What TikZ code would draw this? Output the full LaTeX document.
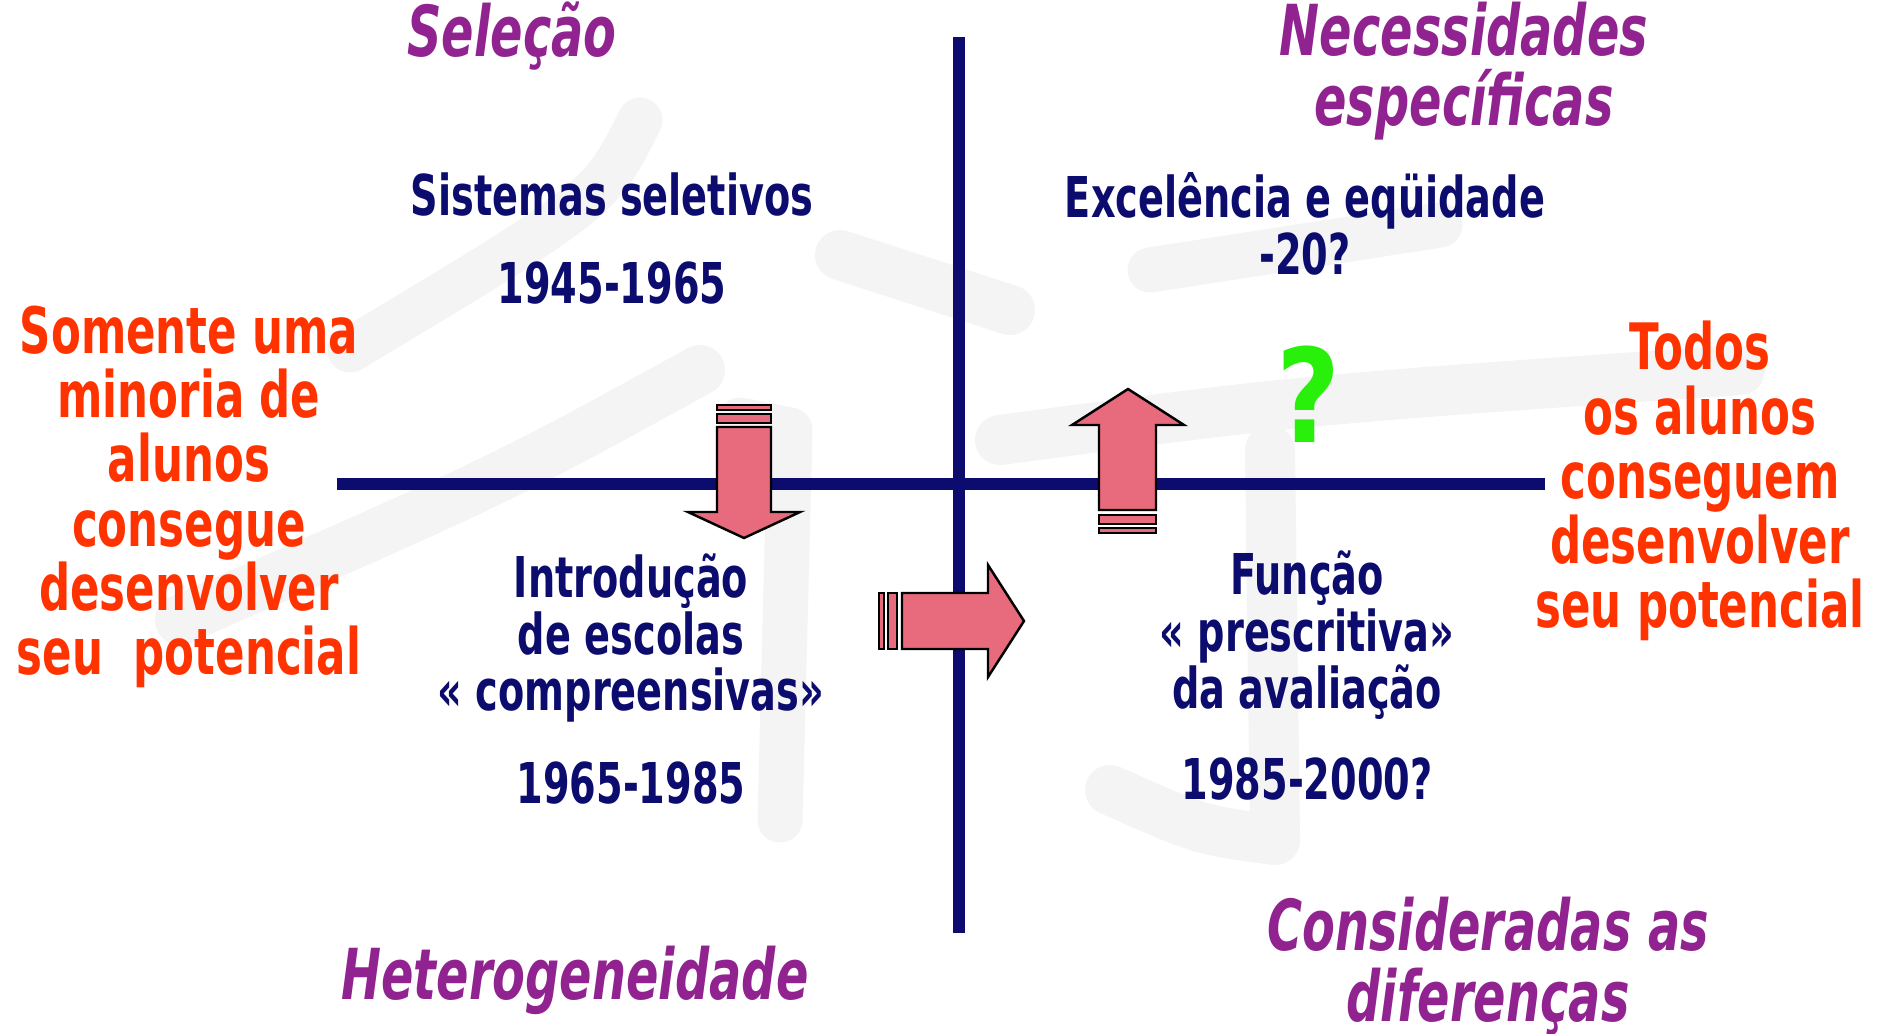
\documentclass[tikz,border=0pt]{standalone}
\usepackage{fontspec}
\setmainfont[FakeStretch=0.68]{DejaVu Sans}
\newfontfamily\duvidafont[FakeStretch=0.85]{DejaVu Sans}
\definecolor{navy}{RGB}{12,12,110}
\definecolor{lilas}{RGB}{145,35,145}
\definecolor{laranja}{RGB}{255,51,0}
\definecolor{verde}{RGB}{40,240,10}
\definecolor{rosa}{RGB}{232,106,125}
\definecolor{marca}{RGB}{244,244,244}
\tikzset{
  azul/.style={text=navy,align=center,font={\fontsize{16}{16.1}\selectfont\bfseries}},
  vermelho/.style={text=laranja,align=center,font={\fontsize{18.2}{18.3}\selectfont\bfseries}},
  titulo/.style={text=lilas,align=center,font={\fontsize{20}{20}\selectfont\bfseries\itshape}},
  seta/.style={draw=black,fill=rosa,line width=0.7pt},
  eixo/.style={draw=navy,line width=1.2mm}}

\begin{document}
\begin{tikzpicture}[x=0.01cm,y=-0.01cm]
\useasboundingbox (0,0) rectangle (1885,1033);
\fill [white] (0,0) rectangle (1885,1033);
\begin{scope}[draw=marca,line cap=round,line join=round]
\draw [line width=4.5mm] (640,120) .. controls (600,200) .. (350,350);
\draw [line width=5mm] (700,370) .. controls (500,480) .. (180,620);
\draw [line width=4.5mm] (740,420) -- (790,430) -- (780,820);
\draw [line width=5mm] (840,255) -- (1010,310);
\draw [line width=4.5mm] (1150,270) -- (1440,225);
\draw [line width=5mm] (1000,440) .. controls (1300,400) .. (1740,370);
\draw [line width=5mm] (1270,450) -- (1275,840) .. controls (1200,830) .. (1110,790);
\end{scope}
\coordinate (topo) at (959,37);
\coordinate (base) at (959,933);
\coordinate (esq) at (337,484);
\coordinate (dir) at (1545,484);
\draw [eixo] (topo) -- (base);
\draw [eixo] (esq) -- (dir);
\draw [seta] (717,405) rectangle (771,410);
\draw [seta] (717,414) rectangle (771,423);
\draw [seta] (717,427) -- (771,427) -- (771,512) -- (800,512) -- (744,538) -- (688,512) -- (717,512) -- cycle;
\draw [seta] (1099,515) rectangle (1156,524);
\draw [seta] (1099,528) rectangle (1156,533);
\draw [seta] (1099,510) -- (1156,510) -- (1156,425) -- (1184,425) -- (1128,389) -- (1072,425) -- (1099,425) -- cycle;
\draw [seta] (879,593) rectangle (884,649);
\draw [seta] (888,593) rectangle (897,649);
\draw [seta] (902,593) -- (988,593) -- (988,565) -- (1024,621) -- (988,677) -- (988,649) -- (902,649) -- cycle;
\node [titulo] (selecao) at (512,36) {Seleção};
\node [titulo] (necessidades) at (1464,71) {Necessidades\\específicas};
\node [titulo] (hetero) at (575,980) {Heterogeneidade};
\node [titulo] (diferencas) at (1488,966) {Consideradas as\\diferenças};
\node [azul] (sistemas) at (612,195) {Sistemas seletivos};
\node [azul] (periodo1) at (612,283) {1945-1965};
\node [azul] (excelencia) at (1305,224) {Excelência e eqüidade\\-20?};
\node [azul] (introducao) at (631,638) {Introdução\\de escolas\\« compreensivas»};
\node [azul] (periodo2) at (631,783) {1965-1985};
\node [azul] (funcao) at (1307,635) {Função\\« prescritiva»\\da avaliação};
\node [azul] (periodo3) at (1307,779) {1985-2000?};
\node [vermelho] (minoria) at (189,497) {Somente uma\\minoria de\\alunos\\consegue\\desenvolver\\seu\ \ potencial};
\node [vermelho] (todos) at (1700,481) {Todos\\os alunos\\conseguem\\desenvolver\\seu potencial};
\node [text=verde,font={\duvidafont\fontsize{37}{37}\selectfont\bfseries}] (duvida) at (1309,394) {?};
\end{tikzpicture}
\end{document}
